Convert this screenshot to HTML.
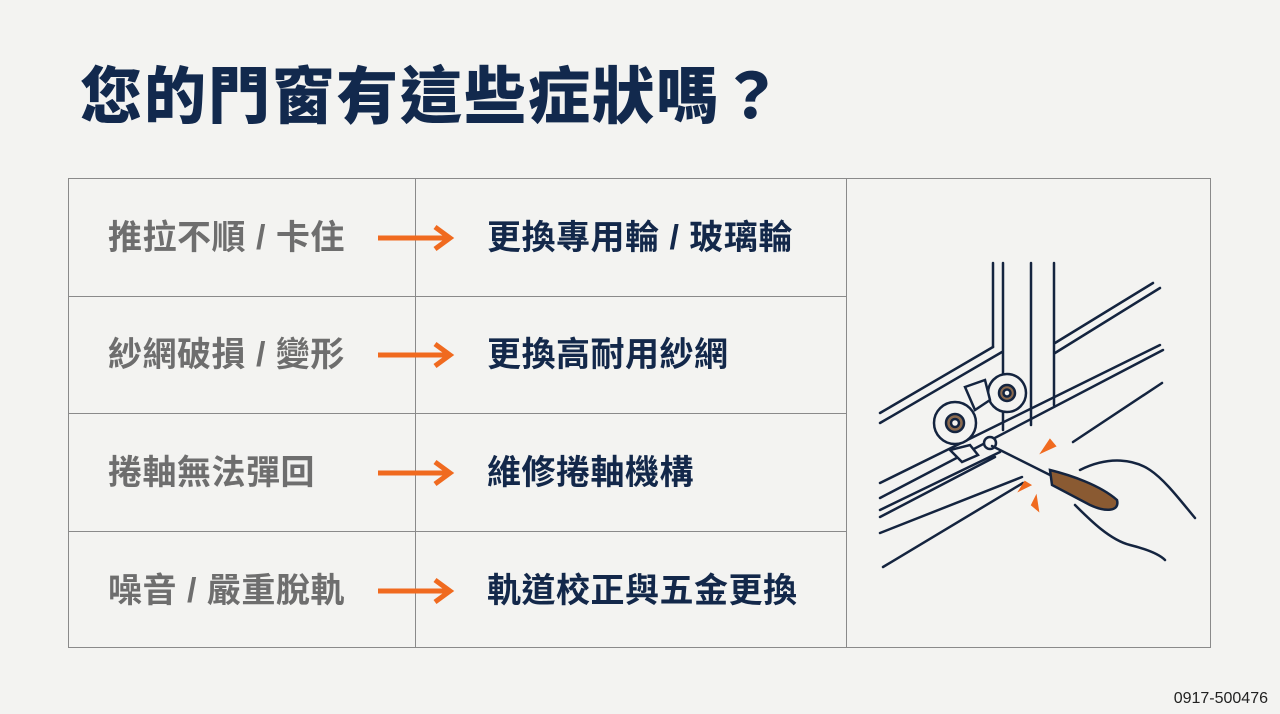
<!DOCTYPE html>
<html><head><meta charset="utf-8"><style>
body{margin:0;width:1280px;height:714px;background:#f3f3f1;position:relative;overflow:hidden;font-family:"Liberation Sans","Noto Sans CJK TC",sans-serif}
h1{position:absolute;left:80px;top:60px;margin:0;font-size:62px;font-weight:900;color:#12294d;letter-spacing:2px;line-height:76px}
.tbl{position:absolute;left:68px;top:178px;width:1143px;height:470px;border:1px solid #8a8a8a;box-sizing:border-box}
.v{position:absolute;top:0;bottom:0;width:1px;background:#8a8a8a}
.h{position:absolute;left:0;width:778px;height:1px;background:#8a8a8a}
.l{position:absolute;left:39px;font-size:34px;font-weight:700;color:#6e6e6e;line-height:40px;letter-spacing:0.5px}
.r{position:absolute;left:418px;font-size:34px;font-weight:700;color:#13284a;line-height:40px;letter-spacing:0.5px}
svg.a{position:absolute;left:308px}
.ph{position:absolute;right:12px;bottom:6px;font-size:16px;color:#222}
</style></head><body>
<h1>您的門窗有這些症狀嗎？</h1>
<div class="tbl">
<div class="v" style="left:346px"></div><div class="v" style="left:777px"></div>
<div class="h" style="top:117px"></div><div class="h" style="top:234px"></div><div class="h" style="top:352px"></div>
<div class="l" style="top:39px">推拉不順 / 卡住</div><div class="r" style="top:39px">更換專用輪 / 玻璃輪</div>
<div class="l" style="top:156px">紗網破損 / 變形</div><div class="r" style="top:156px">更換高耐用紗網</div>
<div class="l" style="top:274px">捲軸無法彈回</div><div class="r" style="top:274px">維修捲軸機構</div>
<div class="l" style="top:392px">噪音 / 嚴重脫軌</div><div class="r" style="top:392px">軌道校正與五金更換</div>
<svg class="a" style="top:45px" width="80" height="28"><path d="M1 14H72M58 3L73 14L58 25" stroke="#f06a1f" stroke-width="5" fill="none"/></svg>
<svg class="a" style="top:162px" width="80" height="28"><path d="M1 14H72M58 3L73 14L58 25" stroke="#f06a1f" stroke-width="5" fill="none"/></svg>
<svg class="a" style="top:280px" width="80" height="28"><path d="M1 14H72M58 3L73 14L58 25" stroke="#f06a1f" stroke-width="5" fill="none"/></svg>
<svg class="a" style="top:398px" width="80" height="28"><path d="M1 14H72M58 3L73 14L58 25" stroke="#f06a1f" stroke-width="5" fill="none"/></svg>
</div>
<svg style="position:absolute;left:0;top:0" width="1280" height="714" fill="none" stroke="#14243f" stroke-width="2.5" stroke-linecap="round">
<path d="M993 263V347M1003 263V430M1031 263V425M1054 263V405"/>
<path d="M880 413L993 347M880 423L1002 352M1055 343L1153 283M1055 353L1160 288"/>
<path d="M880 483L1160 345M880 498L1163 350M880 510L1000 452M880 517L995 457M1073 442L1162 383M880 533L1022 477M883 567L1023 483"/>
<circle cx="955" cy="423" r="21" fill="#f3f3f1"/><circle cx="955" cy="423" r="9" fill="#8b6a4e"/><circle cx="955" cy="423" r="4" fill="#f3f3f1"/>
<circle cx="1007" cy="393" r="19" fill="#f3f3f1"/><circle cx="1007" cy="393" r="8" fill="#8b6a4e"/><circle cx="1007" cy="393" r="3.5" fill="#f3f3f1"/>
<path d="M965 387L985 380L990 400L975 410Z M950 450L962 462L978 455L970 445Z" fill="#f3f3f1"/>
<circle cx="990" cy="443" r="6" fill="#f3f3f1"/>
<path d="M992 446L1052 476"/>
<path d="M1050 470C1070 475 1100 485 1117 500C1120 512 1105 512 1090 505L1052 485Z" fill="#8a5a32"/>
<path d="M1080 470C1110 455 1135 460 1150 470C1165 480 1180 500 1195 518M1075 505C1090 520 1110 540 1130 545C1150 550 1160 555 1165 560"/>
<path d="M1042 452L1055 446L1050 440Z M1020 490L1030 485L1025 482Z M1032 505L1038 510L1036 497Z" fill="#f06a1f" stroke="#f06a1f" stroke-width="2"/>
</svg>
<div class="ph">0917-500476</div>
</body></html>
